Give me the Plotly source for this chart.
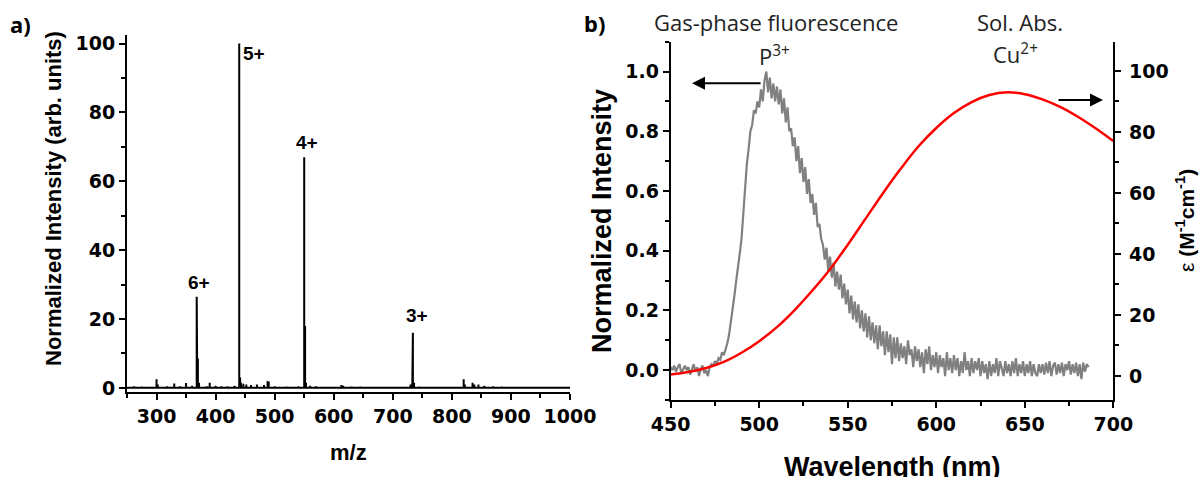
import plotly.graph_objects as go

# ---------------- Panel a: mass spectrum (stick peaks) ----------------
ms_mz = [262, 275, 300, 302, 318, 330, 340, 350, 360, 368, 369, 370, 372, 385, 390,
         400, 410, 420, 432, 440, 441.5, 443, 447, 452, 460, 470, 482, 488, 490, 500,
         520, 540, 550, 551.5, 553, 560, 570, 600, 613, 616, 630, 645, 660, 680, 700,
         730, 733, 734, 736, 745, 760, 820, 822, 835, 838, 845, 855, 870, 885, 900, 910]
ms_int = [0.5, 0.4, 2.5, 1.0, 0.5, 1.3, 0.5, 1.4, 0.6, 26.5, 9.0, 8.5, 1.5, 0.5, 1.5,
          0.6, 0.5, 0.5, 0.6, 100.0, 3.0, 1.5, 1.2, 1.0, 0.8, 1.0, 0.8, 2.0, 1.8, 0.5,
          0.4, 0.5, 67.0, 18.0, 1.5, 0.6, 0.5, 0.3, 0.8, 0.6, 0.4, 0.4, 0.3, 0.3, 0.3,
          1.0, 14.0, 16.0, 1.5, 0.4, 0.3, 2.5, 1.0, 1.5, 1.0, 1.0, 0.6, 0.5, 0.4, 0.3, 0.3]
ms_mz_range = [250, 1000]

charge_labels = ["6+", "5+", "4+", "3+"]
charge_mz = [368, 440, 550, 734]
charge_int = [26.5, 100.0, 67.0, 16.0]

# ---------------- Panel b: fluorescence + absorption ----------------
wl_fluor = list(range(450, 687))
fluor = [
    0.010, 0.000, 0.015, -0.005, 0.010, 0.020, -0.010, 0.005, 0.015, 0.000,
    0.010, -0.015, 0.005, 0.020, -0.005, 0.010, -0.020, 0.005, 0.015, -0.010,
    0.000, -0.020, 0.010, 0.020, 0.015, 0.030, 0.020, 0.040, 0.035, 0.060,
    0.050, 0.070, 0.090, 0.120, 0.160, 0.210, 0.250, 0.300, 0.340, 0.390,
    0.440, 0.530, 0.600, 0.690, 0.740, 0.800, 0.820, 0.870, 0.860, 0.900,
    0.880, 0.940, 0.900, 0.970, 1.000, 0.930, 0.980, 0.910, 0.960, 0.900,
    0.950, 0.890, 0.940, 0.860, 0.910, 0.830, 0.880, 0.800, 0.810, 0.750,
    0.780, 0.700, 0.750, 0.660, 0.710, 0.630, 0.680, 0.590, 0.640, 0.560,
    0.590, 0.520, 0.560, 0.480, 0.490, 0.440, 0.420, 0.370, 0.410, 0.330,
    0.380, 0.310, 0.360, 0.280, 0.330, 0.270, 0.320, 0.240, 0.290, 0.220,
    0.270, 0.190, 0.250, 0.170, 0.230, 0.160, 0.220, 0.140, 0.200, 0.130,
    0.190, 0.110, 0.180, 0.100, 0.160, 0.090, 0.150, 0.070, 0.150, 0.080,
    0.130, 0.050, 0.130, 0.060, 0.120, 0.020, 0.110, 0.040, 0.110, 0.030,
    0.090, 0.040, 0.080, 0.020, 0.100, 0.050, 0.070, 0.010, 0.080, 0.030,
    0.070, 0.010, 0.060, -0.010, 0.070, 0.020, 0.080, 0.000, 0.050, 0.010,
    0.060, -0.010, 0.050, 0.010, 0.040, -0.020, 0.060, 0.000, 0.040, -0.010,
    0.050, 0.000, 0.040, -0.020, 0.030, -0.010, 0.060, 0.000, 0.030, -0.020,
    0.040, -0.010, 0.030, 0.000, 0.040, -0.020, 0.030, -0.010, 0.020, -0.030,
    0.030, -0.020, 0.020, -0.010, 0.040, -0.020, 0.030, 0.000, -0.020, 0.030,
    -0.010, 0.020, -0.020, 0.030, -0.010, 0.040, -0.020, 0.020, -0.010, 0.030,
    -0.020, 0.020, -0.010, 0.030, -0.020, 0.020, -0.010, -0.020, 0.020, -0.010,
    0.020, -0.015, 0.025, -0.010, 0.030, -0.020, 0.015, 0.025, -0.015, 0.020,
    -0.010, 0.025, -0.020, 0.020, 0.000, 0.030, -0.015, 0.020, -0.010, 0.025,
    -0.020, 0.020, -0.030, 0.025, -0.005, 0.020, 0.010,
]

wl_abs = [450, 460, 470, 480, 490, 500, 510, 520, 530, 540, 550, 560, 570, 580,
          590, 600, 610, 620, 630, 640, 650, 660, 670, 680, 690, 700]
eps_abs = [0.5, 1.3, 2.6, 4.6, 7.6, 11.4, 16.0, 21.6, 28.0, 35.0, 43.0, 51.5, 60.0, 68.0,
           75.3, 81.3, 86.2, 89.8, 92.1, 93.0, 92.4, 90.7, 88.2, 85.0, 81.2, 77.0]

# ---------------- build stick spectrum from data ----------------
stick_x = [ms_mz_range[0]]
stick_y = [0]
for mz, h in sorted(zip(ms_mz, ms_int)):
    stick_x += [mz, mz, mz]
    stick_y += [0, h, 0]
stick_x.append(ms_mz_range[1])
stick_y.append(0)

W, H = 1199, 477
def px(x):
    return x / W
def py(y):
    return 1 - y / H

fig = go.Figure()
fig.add_trace(go.Scatter(x=stick_x, y=stick_y, mode="lines",
                         line=dict(color="black", width=2), xaxis="x", yaxis="y",
                         showlegend=False))
fig.add_trace(go.Scatter(x=wl_fluor, y=fluor, mode="lines",
                         line=dict(color="#808080", width=2.2), xaxis="x2", yaxis="y2",
                         showlegend=False))
fig.add_trace(go.Scatter(x=wl_abs, y=eps_abs, mode="lines", line_shape="spline",
                         line=dict(color="#ff0000", width=2.5), xaxis="x2", yaxis="y3",
                         showlegend=False))

tickfont = dict(family="DejaVu Sans", size=19, color="black", weight="bold")
axis_common = dict(showline=True, linecolor="black", linewidth=2, ticks="outside",
                   ticklen=6, tickwidth=2, tickcolor="black", showgrid=False,
                   zeroline=False, tickfont=tickfont, mirror=False, automargin=False)

def minor(dt):
    return dict(ticks="outside", ticklen=4, tickwidth=2, tickcolor="black", dtick=dt, tick0=0)

fig.update_layout(
    width=W, height=H, margin=dict(l=0, r=0, t=0, b=0, autoexpand=False),
    plot_bgcolor="white", paper_bgcolor="white",
    xaxis=dict(domain=[127 / W, 570 / W], range=[250, 1000], anchor="y",
               tick0=0, dtick=100, minor=minor(50), **axis_common),
    yaxis=dict(domain=[py(392), py(35)], range=[-1.2, 102.5], anchor="x",
               tick0=0, dtick=20, minor=minor(10), **axis_common),
    xaxis2=dict(domain=[670.7 / W, 1113.3 / W], range=[450, 700], anchor="y2",
                tick0=0, dtick=50, minor=minor(25), **axis_common),
    yaxis2=dict(domain=[py(400), py(41.7)], range=[-0.1, 1.1], anchor="x2",
                tick0=0, dtick=0.2, tickformat=".1f", minor=minor(0.1), **axis_common),
    yaxis3=dict(domain=[py(400), py(41.7)], range=[-7.9, 109.6], anchor="x2",
                overlaying="y2", side="right", ticklabelstandoff=4,
                tick0=0, dtick=20, minor=minor(10), **axis_common),
)

ann = []
bold = dict(family="Liberation Sans, Arial", color="black", weight="bold")
# peak labels
label_offsets = {"6+": (2, 14), "5+": (15, -10), "4+": (3, 15), "3+": (4, 17)}
for lab, mz, h in zip(charge_labels, charge_mz, charge_int):
    dx, dy = label_offsets[lab]
    ann.append(dict(x=mz, y=h, xref="x", yref="y", text=lab, showarrow=False,
                    xanchor="center", yanchor="middle", xshift=dx, yshift=dy,
                    font=dict(size=19, **bold)))

# panel letters
ann.append(dict(x=px(8), y=py(24), xref="paper", yref="paper", text="a)", showarrow=False,
                xanchor="left", yanchor="middle", font=dict(size=22, family="Noto Sans", color="black", weight="bold")))
ann.append(dict(x=px(582), y=py(23), xref="paper", yref="paper", text="b)", showarrow=False,
                xanchor="left", yanchor="middle", font=dict(size=22, family="Noto Sans", color="black", weight="bold")))

# axis titles
ann.append(dict(x=px(53), y=py(199), xref="paper", yref="paper", text="Normalized Intensity (arb. units)",
                showarrow=False, textangle=-90, xanchor="center", yanchor="middle",
                font=dict(size=22, **bold)))
ann.append(dict(x=px(348), y=py(452), xref="paper", yref="paper", text="m/z",
                showarrow=False, xanchor="center", yanchor="middle", font=dict(size=22, **bold)))
ann.append(dict(x=px(602), y=py(221), xref="paper", yref="paper", text="Normalized Intensity",
                showarrow=False, textangle=-90, xanchor="center", yanchor="middle",
                font=dict(size=27, **bold)))
ann.append(dict(x=px(892), y=py(467), xref="paper", yref="paper", text="Wavelength (nm)",
                showarrow=False, xanchor="center", yanchor="middle", font=dict(size=27, **bold)))
ann.append(dict(x=px(1185), y=py(221), xref="paper", yref="paper",
                text="ε <b>(M<sup>-1</sup>cm<sup>-1</sup>)</b>",
                showarrow=False, textangle=-90, xanchor="center", yanchor="middle",
                font=dict(size=21, family="Liberation Sans, Arial", color="black")))

# panel b text labels
lab_font = dict(size=22, family="Open Sans", color="#222222")
ann.append(dict(x=px(776), y=py(22), xref="paper", yref="paper", text="Gas-phase fluorescence",
                showarrow=False, xanchor="center", yanchor="middle", font=lab_font))
ann.append(dict(x=px(774), y=py(55), xref="paper", yref="paper", text="P<sup>3+</sup>",
                showarrow=False, xanchor="center", yanchor="middle", font=lab_font))
ann.append(dict(x=px(1020), y=py(22), xref="paper", yref="paper", text="Sol. Abs.",
                showarrow=False, xanchor="center", yanchor="middle", font=lab_font))
ann.append(dict(x=px(1016), y=py(53), xref="paper", yref="paper", text="Cu<sup>2+</sup>",
                showarrow=False, xanchor="center", yanchor="middle", font=lab_font))

# arrows
ann.append(dict(x=px(692), y=py(83.3), xref="paper", yref="paper", text="", showarrow=True,
                ax=70, ay=0, arrowhead=2, arrowsize=1.3, arrowwidth=2, arrowcolor="black"))
ann.append(dict(x=px(1103), y=py(100), xref="paper", yref="paper", text="", showarrow=True,
                ax=-46, ay=0, arrowhead=2, arrowsize=1.3, arrowwidth=2, arrowcolor="black"))

fig.update_layout(annotations=ann)
fig.write_html("out.html")
